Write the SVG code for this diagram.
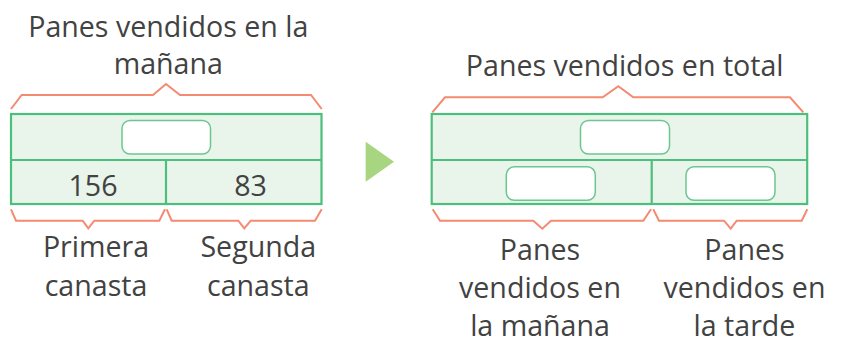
<svg xmlns="http://www.w3.org/2000/svg" width="843" height="338" viewBox="0 0 843 338">
<style>
.bar{fill:#e9f4ea;stroke:#4dbf7c;stroke-width:2.2}
.div{stroke:#4dbf7c;stroke-width:2.2;fill:none}
.box{fill:#ffffff;stroke:#6cc78f;stroke-width:1.5}
.brace{fill:none;stroke:#f48a72;stroke-width:2;stroke-linejoin:miter}
.t{font-family:"Open Sans","Noto Sans",sans-serif;font-size:28.6px;fill:#424242;text-anchor:middle}
</style>
<g id="left-bar">
<rect class="bar" x="11" y="114" width="310.5" height="90"/>
<line class="div" x1="11" y1="160" x2="321.5" y2="160"/>
<line class="div" x1="166" y1="160" x2="166" y2="204"/>
<rect class="box" x="122" y="120.5" width="88.5" height="33.5" rx="8"/>
<text class="t" x="93" y="195.5">156</text>
<text class="t" x="250.5" y="195.5">83</text>
</g>
<g id="left-title">
<text class="t" x="168.3" y="36.5">Panes vendidos en la</text>
<text class="t" x="168.3" y="74">mañana</text>
</g>
<g id="left-labels">
<text class="t" x="96" y="256.5">Primera</text>
<text class="t" x="96" y="295.5">canasta</text>
<text class="t" x="258.3" y="256.5">Segunda</text>
<text class="t" x="258.3" y="295.5">canasta</text>
</g>
<g id="arrow">
<polygon points="365.7,141.7 394,161.7 365.7,181.7" fill="#a8d680"/>
</g>
<g id="right-bar">
<rect class="bar" x="431.7" y="114" width="375.5" height="90"/>
<line class="div" x1="431.7" y1="160" x2="807.2" y2="160"/>
<line class="div" x1="651.7" y1="160" x2="651.7" y2="204"/>
<rect class="box" x="580.5" y="120.5" width="89" height="33.5" rx="8"/>
<rect class="box" x="506.3" y="166.8" width="89" height="33.5" rx="8"/>
<rect class="box" x="686" y="166.8" width="89" height="33.5" rx="8"/>
</g>
<g id="right-title">
<text class="t" x="624.7" y="76">Panes vendidos en total</text>
</g>
<g id="right-labels">
<text class="t" x="540" y="260">Panes</text>
<text class="t" x="540" y="298.3">vendidos en</text>
<text class="t" x="540" y="335.5">la mañana</text>
<text class="t" x="744.5" y="260">Panes</text>
<text class="t" x="744.5" y="298.3">vendidos en</text>
<text class="t" x="744.5" y="335.5">la tarde</text>
</g>
<g id="connectors">
<polyline class="brace" points="11,109 21.7,95 153,95 166,84 180,95 311,95 321.7,109"/>
<polyline class="brace" points="11,209.3 16,220.7 82.7,220.7 88.3,228.3 94.3,220.7 159.3,220.7 165,209.3"/>
<polyline class="brace" points="166.7,209.3 171.7,220.7 238.3,220.7 244.3,228.3 250.7,220.7 315,220.7 321.7,209.3"/>
<polyline class="brace" points="432.3,112.3 445,97.3 602.7,97.3 618.3,86.3 633.3,97.3 790,97.3 803.3,112.3"/>
<polyline class="brace" points="432.7,209.3 440,220.7 533.3,220.7 542.3,228.7 551,220.7 643.3,220.7 651,209.3"/>
<polyline class="brace" points="653.3,209.3 659,220.7 724,220.7 730.7,228.7 736.7,220.7 801.7,220.7 807.3,209.3"/>
</g>
</svg>
